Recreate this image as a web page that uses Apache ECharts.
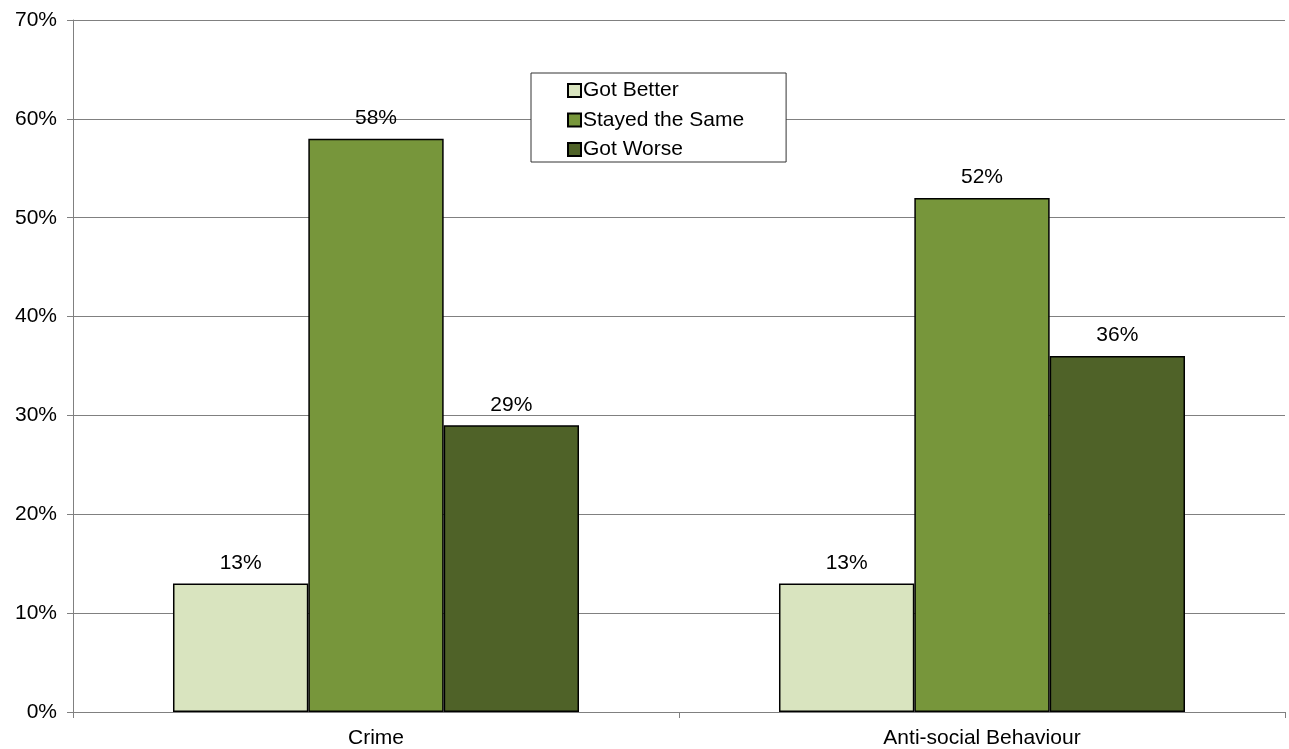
<!DOCTYPE html>
<html><head><meta charset="utf-8">
<script src="https://cdn.jsdelivr.net/npm/echarts@6/dist/echarts.min.js"></script>
<style>html,body{margin:0;padding:0;background:#fff}#c{width:1289px;height:749px}</style>
</head><body><div id="c"></div>
<script>
const categories = ['Crime', 'Anti-social Behaviour'];
const seriesNames = ['Got Better', 'Stayed the Same', 'Got Worse'];
const gotBetter = [13, 13];
const stayedSame = [58, 52];
const gotWorse = [29, 36];
const colors = ['#D9E4BF', '#77963B', '#4F6228'];
const dataSets = [gotBetter, stayedSame, gotWorse];

const font = 'Liberation Sans, Arial, sans-serif';
const chart = echarts.init(document.getElementById('c'));
chart.setOption({
  animation: false,
  backgroundColor: '#fff',
  grid: { left: 73, right: 4, top: 20, bottom: 37, containLabel: false },
  legend: {
    orient: 'vertical', left: 531, top: 73,
    data: seriesNames,
    backgroundColor: '#fff', borderColor: '#333', borderWidth: 1,
    padding: [7, 42, 2, 36],
    itemWidth: 13, itemHeight: 13, itemGap: 8.5,
    icon: 'rect',
    textStyle: { fontFamily: font, fontSize: 21, color: '#000', padding: [0, 0, 0, -3] }
  },
  xAxis: {
    type: 'category', data: categories,
    axisLine: { lineStyle: { color: '#808080', width: 1 } },
    axisTick: { show: true, length: 6, lineStyle: { color: '#808080' } },
    axisLabel: { fontFamily: font, fontSize: 21, color: '#000', margin: 16 }
  },
  yAxis: {
    type: 'value', min: 0, max: 70, interval: 10,
    axisLine: { show: true, lineStyle: { color: '#808080', width: 1 } },
    axisTick: { show: true, length: 6, lineStyle: { color: '#808080' } },
    splitLine: { lineStyle: { color: '#808080', width: 1 } },
    axisLabel: { formatter: '{value}%', fontFamily: font, fontSize: 21, color: '#000', margin: 16 }
  },
  series: seriesNames.map((n, i) => ({
    name: n, type: 'bar', data: dataSets[i],
    barGap: '0%', barCategoryGap: '33%',
    itemStyle: { color: colors[i], borderColor: '#000', borderWidth: 1.5 },
    label: { show: true, position: 'top', distance: 10, formatter: '{c}%', fontFamily: font, fontSize: 21, color: '#000' }
  }))
});
</script></body></html>
